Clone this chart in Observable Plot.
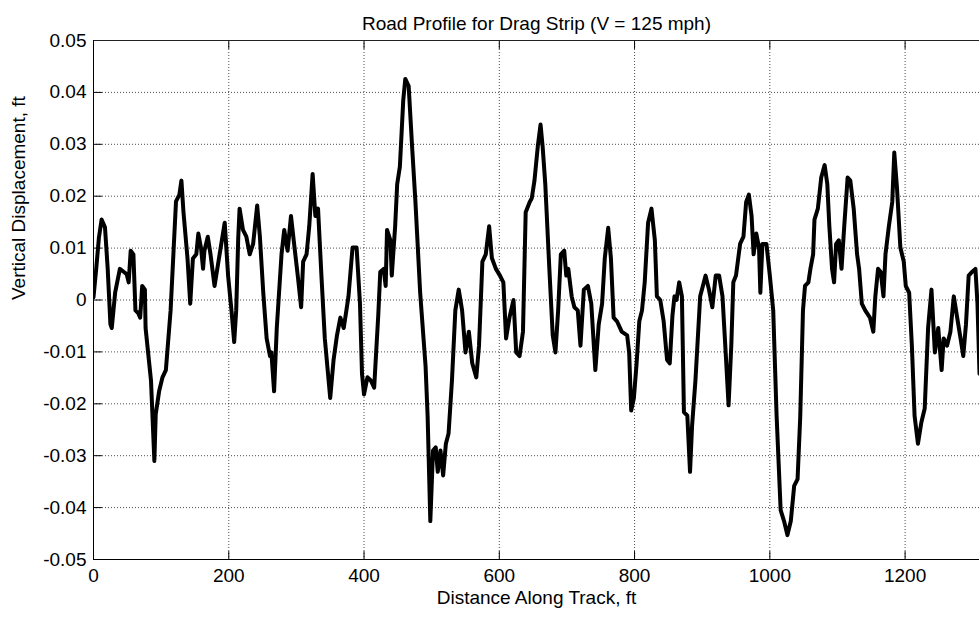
<!DOCTYPE html>
<html>
<head>
<meta charset="utf-8">
<script src="https://cdn.jsdelivr.net/npm/d3@7"></script>
<script src="https://cdn.jsdelivr.net/npm/@observablehq/plot@0.6"></script>
<style>
  html, body { margin: 0; padding: 0; background: #fff; overflow: hidden; }
</style>
</head>
<body>
<div id="chart"></div>
<script>
const titleText = "Road Profile for Drag Strip (V = 125 mph)";
const xLabel = "Distance Along Track, ft";
const yLabel = "Vertical Displacement, ft";

const xDomain = [0, 1310];
const yDomain = [-0.05, 0.05];
const xTicks = [0, 200, 400, 600, 800, 1000, 1200];
const yTicks = [-0.05, -0.04, -0.03, -0.02, -0.01, 0, 0.01, 0.02, 0.03, 0.04, 0.05];

const distance = [
  0, 4, 8, 12, 17, 21, 25, 27, 32, 37, 39, 45, 49, 52, 55, 59, 62, 66, 69, 72,
  76, 77, 85, 90, 92, 97, 102, 107, 114, 122, 127, 130, 133, 139, 143, 147, 152, 155, 159, 162,
  164, 169, 173, 179, 184, 194, 199, 204, 208, 211, 214, 216, 221, 226, 231, 236, 242, 246, 251, 256,
  261, 263, 267, 271, 278, 282, 287, 292, 296, 302, 307, 310, 315, 319, 324, 328, 332, 337, 342, 350,
  355, 360, 365, 370, 377, 383, 389, 394, 397, 400, 405, 410, 415, 417, 421, 424, 429, 432, 434, 439,
  441, 446, 449, 453, 458, 461, 466, 471, 476, 483, 491, 494, 498, 502, 506, 509, 513, 517, 521, 525,
  530, 535, 540, 545, 550, 555, 560, 566, 570, 575, 580, 585, 589, 595, 601, 606, 610, 615, 621, 625,
  630, 635, 639, 645, 648, 652, 657, 661, 664, 668, 674, 679, 683, 687, 691, 696, 699, 702, 707, 711,
  716, 720, 725, 731, 736, 742, 747, 752, 756, 761, 765, 769, 774, 781, 789, 792, 795, 799, 803, 807,
  811, 815, 820, 825, 830, 833, 838, 843, 848, 852, 856, 859, 862, 866, 870, 873, 878, 882, 885, 890,
  897, 901, 905, 910, 915, 920, 925, 930, 935, 939, 943, 946, 950, 956, 961, 965, 969, 973, 976, 980,
  984, 986, 989, 995, 1000, 1005, 1010, 1016, 1021, 1026, 1031, 1036, 1041, 1045, 1049, 1052, 1057, 1060, 1064, 1066,
  1071, 1076, 1081, 1085, 1088, 1092, 1095, 1098, 1102, 1106, 1110, 1115, 1119, 1124, 1129, 1132, 1136, 1141, 1148, 1153,
  1156, 1160, 1164, 1168, 1171, 1176, 1181, 1184, 1188, 1193, 1198, 1201, 1206, 1210, 1214, 1219, 1224, 1229, 1234, 1239,
  1244, 1249, 1254, 1257, 1262, 1267, 1272, 1277, 1282, 1286, 1290, 1294, 1299, 1304, 1307, 1310
];

const displacement = [
  0.0005, 0.006, 0.012, 0.0155, 0.014, 0.006, -0.0047, -0.0054, 0.0014, 0.0047, 0.006, 0.0054, 0.005, 0.0034, 0.0095, 0.0088, -0.002, -0.0025, -0.0034, 0.0027,
  0.002, -0.0054, -0.0155, -0.031, -0.022, -0.0176, -0.0149, -0.0135, -0.002, 0.019, 0.0203, 0.023, 0.017, 0.008, -0.0007, 0.008, 0.0088, 0.0128, 0.010, 0.006,
  0.0095, 0.0122, 0.0088, 0.0027, 0.0068, 0.0149, 0.0047, -0.002, -0.0081, -0.002, 0.012, 0.0176, 0.0135, 0.0122, 0.0088, 0.0108, 0.0182, 0.0122, 0.0014, -0.0074,
  -0.0108, -0.0101, -0.0176, -0.0054, 0.0088, 0.0135, 0.0095, 0.0162, 0.0115, 0.0047, -0.0014, 0.0074, 0.0088, 0.0142, 0.0243, 0.0162, 0.0176, 0.0047, -0.0074, -0.0189,
  -0.0115, -0.0068, -0.0034, -0.0054, 0.0007, 0.0101, 0.0101, -0.0007, -0.0142, -0.0182, -0.0149, -0.0155, -0.0169, -0.0122, -0.003, 0.0054, 0.006, 0.0027, 0.0135, 0.0115,
  0.0047, 0.0142, 0.0223, 0.0257, 0.0385, 0.0426, 0.0412, 0.0297, 0.0189, 0.0014, -0.0128, -0.0223, -0.0426, -0.029, -0.0284, -0.0331, -0.029, -0.0338, -0.0277, -0.0257,
  -0.0155, -0.002, 0.002, -0.002, -0.0101, -0.0061, -0.0122, -0.0149, -0.0088, 0.0074, 0.0088, 0.0142, 0.0081, 0.006, 0.0047, 0.0034, -0.0074, -0.0034, 0, -0.0101,
  -0.0108, -0.0061, 0.0169, 0.0189, 0.0196, 0.023, 0.0297, 0.0338, 0.0297, 0.0223, 0.006, -0.0068, -0.0101, -0.002, 0.0088, 0.0095, 0.0047, 0.006, 0.0007, -0.0014,
  -0.002, -0.0088, 0.002, 0.0027, -0.0007, -0.0135, -0.0047, -0.0007, 0.0081, 0.0139, 0.0081, -0.0034, -0.0041, -0.0061, -0.0068, -0.0101, -0.0213, -0.0189, -0.0122, -0.0041,
  -0.002, 0.0034, 0.0149, 0.0176, 0.0115, 0.0007, 0, -0.0041, -0.0115, -0.0122, -0.003, 0.0007, 0, 0.0034, 0.0007, -0.0216, -0.0223, -0.0331, -0.0243, -0.0155,
  0.0007, 0.0027, 0.0047, 0.002, -0.0014, 0.0047, 0.0047, 0.0007, -0.0108, -0.0203, -0.0088, 0.0034, 0.0047, 0.0108, 0.0122, 0.0189, 0.0203, 0.0162, 0.0088, 0.0128,
  0.0101, 0.0014, 0.0108, 0.0108, 0.0047, -0.002, -0.0223, -0.0405, -0.0426, -0.0453, -0.0426, -0.0358, -0.0345, -0.0223, -0.002, 0.0027, 0.0034, 0.006, 0.0088, 0.0155,
  0.0176, 0.0236, 0.026, 0.0223, 0.0142, 0.006, 0.0034, 0.0108, 0.0115, 0.006, 0.0142, 0.0236, 0.023, 0.0176, 0.0088, 0.006, -0.0007, -0.002, -0.0034, -0.0061,
  0.0007, 0.006, 0.0054, 0.0007, 0.0088, 0.0142, 0.0189, 0.0284, 0.0216, 0.0101, 0.0074, 0.0027, 0.0014, -0.0088, -0.0223, -0.0277, -0.0236, -0.0209, -0.0054, 0.002,
  -0.0101, -0.0054, -0.0135, -0.0074, -0.0088, -0.0061, 0.0007, -0.0034, -0.0074, -0.0108, -0.0047, 0.0047, 0.0054, 0.006, -0.0007, -0.0142
];

const profile = distance.map((d, i) => ({distance: d, displacement: displacement[i]}));

const fmtY = d => (d === 0 ? "0" : d.toFixed(2));
const tickShape = {draw(context, l) { context.moveTo(0, 0); context.lineTo(0, -l); }};
const font = "'Liberation Sans', Arial, Helvetica, sans-serif";

const chart = Plot.plot({
  width: 979,
  height: 620,
  marginTop: 40,
  marginBottom: 61,
  marginLeft: 93,
  marginRight: 0,
  style: {fontFamily: font, fontSize: "19px", background: "#fff", color: "#000"},
  x: {domain: xDomain},
  y: {domain: yDomain},
  marks: [
    Plot.gridX(xTicks, {stroke: "#000", strokeOpacity: 0.7, strokeDasharray: "1,2"}),
    Plot.gridY(yTicks, {stroke: "#000", strokeOpacity: 0.7, strokeDasharray: "1,2"}),
    Plot.axisX(xTicks, {tickSize: 0, tickPadding: 9, label: null, fontSize: 19, tickFormat: d => String(d)}),
    Plot.axisY(yTicks, {tickSize: 0, tickPadding: 7, label: null, fontSize: 19, tickFormat: fmtY}),
    Plot.vector(yTicks, {y: d => d, frameAnchor: "left", length: 8, rotate: 90, anchor: "start", shape: tickShape, stroke: "#000", strokeWidth: 1}),
    Plot.vector(xTicks, {x: d => d, frameAnchor: "bottom", length: 8, rotate: 0, anchor: "start", shape: tickShape, stroke: "#000", strokeWidth: 1}),
    Plot.vector(xTicks, {x: d => d, frameAnchor: "top", length: 8, rotate: 180, anchor: "start", shape: tickShape, stroke: "#000", strokeWidth: 1}),
    Plot.ruleY([yDomain[1]], {stroke: "#222", strokeWidth: 1}),
    Plot.ruleY([yDomain[0]], {stroke: "#000", strokeWidth: 1}),
    Plot.ruleX([xDomain[0]], {stroke: "#000", strokeWidth: 1}),
    Plot.line(profile, {x: "distance", y: "displacement", stroke: "#000", strokeWidth: 4, strokeLinejoin: "round", clip: true}),
    Plot.text([titleText], {frameAnchor: "top", dy: -24, fontSize: 19, fill: "#000"}),
    Plot.text([xLabel], {frameAnchor: "bottom", dy: 44, fontSize: 19, fill: "#000"}),
    Plot.text([yLabel], {frameAnchor: "left", dx: -75, rotate: -90, fontSize: 19, fill: "#000"})
  ]
});

document.getElementById("chart").appendChild(chart);
</script>
</body>
</html>
